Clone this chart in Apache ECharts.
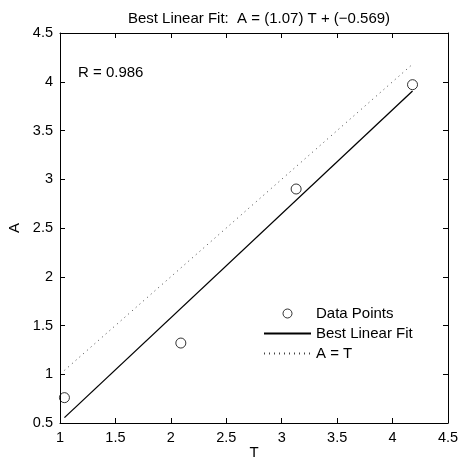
<!DOCTYPE html>
<html>
<head>
<meta charset="utf-8">
<script src="https://cdn.jsdelivr.net/npm/echarts@6/dist/echarts.min.js"></script>
<style>
  html, body { margin: 0; padding: 0; background: #fff; }
  #chart { width: 459px; height: 459px; }
</style>
</head>
<body>
<div id="chart"></div>
<script>
// data
const targets = [1.04, 2.09, 3.13, 4.18];
const outputs = [0.76, 1.32, 2.90, 3.97];
const fitLine = [[1.04, 0.555], [4.18, 3.905]];
const identityLine = [[1.04, 1.04], [4.18, 4.18]];
const xTicks = { min: 1, max: 4.5, step: 0.5 };
const yTicks = { min: 0.5, max: 4.5, step: 0.5 };

const font = 'Liberation Sans, Arial, Helvetica, sans-serif';
const chart = echarts.init(document.getElementById('chart'));

const points = targets.map((t, i) => [t, outputs[i]]);

const baseAxis = {
    type: 'value',
    axisLine: { show: true, onZero: false, lineStyle: { color: '#000', width: 1 } },
    axisTick: { show: true, inside: true, length: 5, lineStyle: { color: '#000' } },
    splitLine: { show: false },
    axisLabel: { color: '#000', fontSize: 14.5, fontFamily: font },
};

chart.setOption({
    animation: false,
    backgroundColor: '#fff',
    title: [{
        text: 'Best Linear Fit:  A = (1.07) T + (\u22120.569)',
        left: 254, top: 6, textAlign: 'center',
        textStyle: { color: '#000', fontSize: 15, fontWeight: 'normal', fontFamily: font }
    }, {
        text: 'R = 0.986',
        left: 73, top: 60,
        textStyle: { color: '#000', fontSize: 15, fontWeight: 'normal', fontFamily: font }
    }],
    grid: { left: 60, right: 11, top: 33, bottom: 36, containLabel: false, outerBoundsMode: 'none' },
    legend: {
        orient: 'vertical',
        left: 263, top: 306, padding: 0,
        itemWidth: 47, itemHeight: 9, itemGap: 5,
        textStyle: { color: '#000', fontSize: 15, fontFamily: font },
        data: [
            { name: 'Data Points', itemStyle: { color: 'rgba(0,0,0,0)', borderColor: '#000', borderWidth: 1 } },
            { name: 'Best Linear Fit', itemStyle: { opacity: 0 } },
            { name: 'A = T', itemStyle: { opacity: 0 } }
        ]
    },
    xAxis: [
        Object.assign({}, baseAxis, {
            min: xTicks.min, max: xTicks.max, interval: xTicks.step,
            position: 'bottom',
            name: 'T', nameLocation: 'middle', nameGap: 22, nameMoveOverlap: false,
            nameTextStyle: { color: '#000', fontSize: 15, fontFamily: font },
            axisLabel: Object.assign({}, baseAxis.axisLabel, { margin: 7 })
        }),
        Object.assign({}, baseAxis, {
            min: xTicks.min, max: xTicks.max, interval: xTicks.step,
            position: 'top', axisLabel: { show: false }
        })
    ],
    yAxis: [
        Object.assign({}, baseAxis, {
            min: yTicks.min, max: yTicks.max, interval: yTicks.step,
            position: 'left',
            name: 'A', nameLocation: 'middle', nameGap: 38, nameMoveOverlap: false,
            nameTextStyle: { color: '#000', fontSize: 15, fontFamily: font },
            axisLabel: Object.assign({}, baseAxis.axisLabel, { margin: 7 })
        }),
        Object.assign({}, baseAxis, {
            min: yTicks.min, max: yTicks.max, interval: yTicks.step,
            position: 'right', axisLabel: { show: false }
        })
    ],
    series: [
        {
            name: 'Data Points',
            type: 'scatter',
            symbol: 'circle',
            symbolSize: 10,
            itemStyle: { color: 'rgba(0,0,0,0)', borderColor: '#000', borderWidth: 1 },
            data: points,
            z: 3
        },
        {
            name: 'Best Linear Fit',
            type: 'line',
            showSymbol: false,
            symbol: 'none',
            lineStyle: { color: '#000', width: 1.3 },
            itemStyle: { color: '#000' },
            data: fitLine
        },
        {
            name: 'A = T',
            type: 'line',
            showSymbol: false,
            symbol: 'none',
            lineStyle: { color: '#444', width: 1, type: [1, 4] },
            itemStyle: { color: '#000' },
            data: identityLine
        }
    ]
});
</script>
</body>
</html>
